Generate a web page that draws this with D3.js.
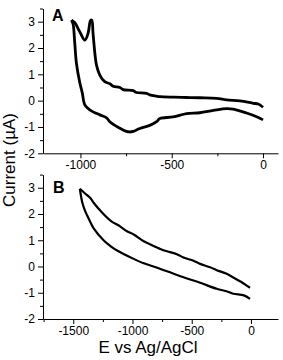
<!DOCTYPE html>
<html>
<head>
<meta charset="utf-8">
<script src="https://cdn.jsdelivr.net/npm/d3@7"></script>
<style>
  body { margin: 0; background: #fff; }
  svg { display: block; font-family: "Liberation Sans", Arial, sans-serif; }
  .tick text { font-size: 12px; fill: #000; font-family: "Liberation Sans", Arial, sans-serif; }
  .domain, .tick line { stroke: #000; stroke-width: 1; }
</style>
</head>
<body>
<svg id="chart" width="283" height="360"></svg>
<script>
// panel A: cyclic voltammogram, forward (upper) and reverse (lower) branches
var aUpperE = [-1049, -1031, -1004, -976, -958, -945, -938, -931, -921, -912, -894, -867, -839, -821, -784, -766, -711, -693, -638, -620, -583, -565, -492, -420, -346, -254, -199, -126, -53, -26, 0];
var aUpperI = [3.06, 2.96, 2.62, 2.30, 2.56, 3.04, 3.06, 2.56, 1.80, 1.35, 0.97, 0.72, 0.64, 0.55, 0.50, 0.42, 0.38, 0.31, 0.28, 0.22, 0.17, 0.15, 0.13, 0.12, 0.11, 0.09, 0.03, -0.01, -0.10, -0.13, -0.25];
var aLowerE = [-1049, -1040, -1031, -1022, -1004, -990, -976, -949, -894, -857, -839, -784, -748, -730, -711, -675, -620, -583, -565, -492, -419, -346, -272, -199, -163, -90, -35, 0];
var aLowerI = [3.06, 2.90, 2.18, 1.42, 0.70, 0.30, -0.16, -0.35, -0.54, -0.65, -0.80, -1.05, -1.17, -1.19, -1.17, -1.06, -0.94, -0.80, -0.68, -0.62, -0.49, -0.46, -0.37, -0.30, -0.32, -0.47, -0.61, -0.73];

// panel B
var bUpperE = [-1444, -1400, -1354, -1326, -1270, -1186, -1102, -1046, -990, -905, -849, -765, -709, -625, -569, -485, -429, -345, -289, -205, -149, -93, -8];
var bUpperI = [2.96, 2.78, 2.60, 2.42, 2.12, 1.75, 1.52, 1.34, 1.22, 0.96, 0.84, 0.67, 0.58, 0.47, 0.34, 0.22, 0.10, -0.03, -0.14, -0.28, -0.42, -0.56, -0.81];
var bLowerE = [-1444, -1424, -1400, -1382, -1354, -1326, -1242, -1186, -1130, -990, -905, -849, -709, -569, -429, -289, -200, -149, -60, -8];
var bLowerI = [2.96, 2.45, 2.12, 1.94, 1.68, 1.44, 0.99, 0.78, 0.61, 0.29, 0.12, 0.04, -0.18, -0.41, -0.62, -0.85, -0.95, -1.04, -1.10, -1.23];

var yMajor = [-2, -1, 0, 1, 2, 3];
var yMinor = [-1.5, -0.5, 0.5, 1.5, 2.5, 3.5];
var aMajor = [-1000, -500, 0];
var aMinor = [-750, -250];
var bMajor = [-1500, -1000, -500, 0];
var bMinor = [-1750, -1250, -750, -250];

var svg = d3.select('#chart');
var plain = function(d) { return String(d); };  // hyphen minus, no separators

function zip(e, i) {
  return e.map(function(v, k) { return [v, i[k]]; });
}

function panel(opts) {
  var x = d3.scaleLinear().domain(opts.xDomain).range([43, 278]);
  var y = d3.scaleLinear().domain([-2, 3.5]).range(opts.yRange);
  var g = svg.append('g');

  // minor ticks first, then the labelled axis on top
  g.append('g')
    .attr('transform', 'translate(0,' + opts.yRange[0] + ')')
    .call(d3.axisBottom(x).tickValues(opts.xMinor).tickSize(3).tickFormat(''))
    .call(function(a) { a.select('.domain').remove(); });
  g.append('g')
    .attr('transform', 'translate(43,0)')
    .call(d3.axisLeft(y).tickValues(yMinor).tickSize(3).tickFormat(''))
    .call(function(a) { a.select('.domain').remove(); });

  g.append('g')
    .attr('transform', 'translate(0,' + opts.yRange[0] + ')')
    .call(d3.axisBottom(x).tickValues(opts.xMajor).tickSize(5).tickSizeOuter(0).tickPadding(2).tickFormat(plain));
  g.append('g')
    .attr('transform', 'translate(43,0)')
    .call(d3.axisLeft(y).tickValues(yMajor).tickSize(5).tickSizeOuter(0).tickPadding(3).tickFormat(plain));

  var line = d3.line()
    .x(function(d) { return x(d[0]); })
    .y(function(d) { return y(d[1]); })
    .curve(d3.curveCatmullRom.alpha(0.5));

  opts.curves.forEach(function(c) {
    g.append('path')
      .datum(c)
      .attr('fill', 'none')
      .attr('stroke', '#000')
      .attr('stroke-width', opts.width)
      .attr('stroke-linejoin', 'round')
      .attr('d', line);
  });

  g.append('text')
    .attr('x', opts.labelX)
    .attr('y', opts.labelY)
    .attr('font-size', 16)
    .attr('font-weight', 'bold')
    .text(opts.label);
}

panel({
  xDomain: [-1205, 82], yRange: [153.3, 8.5],
  xMajor: aMajor, xMinor: aMinor,
  curves: [zip(aUpperE, aUpperI), zip(aLowerE, aLowerI)],
  width: 2.8, label: 'A', labelX: 52, labelY: 21
});

panel({
  xDomain: [-1755, 228], yRange: [319, 174.6],
  xMajor: bMajor, xMinor: bMinor,
  curves: [zip(bUpperE, bUpperI), zip(bLowerE, bLowerI)],
  width: 2.2, label: 'B', labelX: 53, labelY: 193
});

svg.append('text')
  .attr('transform', 'translate(15,160) rotate(-90)')
  .attr('text-anchor', 'middle')
  .attr('font-size', 17)
  .text('Current (\u00b5A)');

svg.append('text')
  .attr('x', 148)
  .attr('y', 353)
  .attr('text-anchor', 'middle')
  .attr('font-size', 17)
  .text('E vs Ag/AgCl');
</script>
</body>
</html>
